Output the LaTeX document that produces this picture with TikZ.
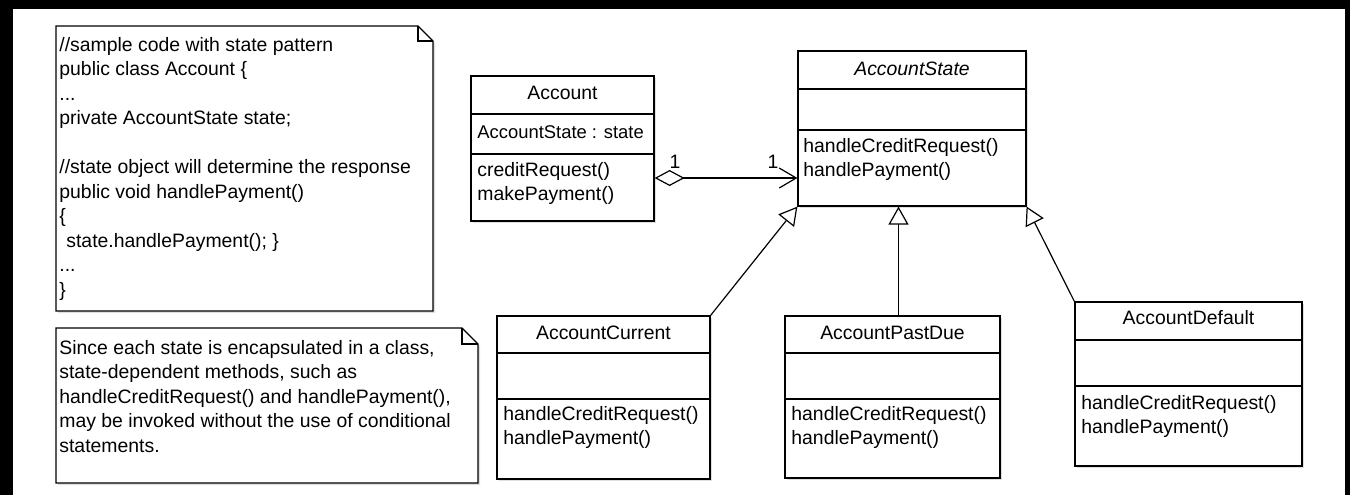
\documentclass[tikz,border=0pt]{standalone}
\usepackage{fontspec}
\setmainfont{Liberation Sans}
\usetikzlibrary{arrows.meta,fit,shadows}

\begin{document}
\begin{tikzpicture}[x=0.5pt,y=-0.5pt,
  every node/.style={font=\fontsize{9.7pt}{11.5pt}\selectfont, inner sep=0pt},
  line/.style={line width=0.6pt, draw=black},
  box/.style={line, fill=white, inner sep=0pt,
    drop shadow={shadow xshift=1pt, shadow yshift=-1pt, fill=black!25, opacity=.5}},
  txt/.style={anchor=base west, text=black},
  ttl/.style={anchor=base, text=black},
  gen/.style={line, -{Triangle[open, length=9pt, width=10pt, fill=white]}},
  assoc/.style={line, {Diamond[open, length=15pt, width=8pt, fill=white]}-{Straight Barb[length=8.5pt, width=10pt]}},
]
\useasboundingbox (0,0) rectangle (1350,495);

% frame bars
\fill[black] (0,0) rectangle (1350,9);
\fill[black] (0,0) rectangle (13,495);
\fill[black] (1345,0) rectangle (1350,495);

% ---------- note: sample code ----------
\begin{scope}[shift={(2,2)}]
  \fill[black!13] (56,26) -- (418,26) -- (433,41) -- (433,311) -- (56,311) -- cycle;
\end{scope}
\filldraw[line, fill=white] (56,26) -- (418,26) -- (433,41) -- (433,311) -- (56,311) -- cycle;
\draw[line] (418,26) -- (418,41) -- (433,41);
\node[txt] (c1)  at (59,51)    {//sample code with state pattern};
\node[txt] (c2)  at (59,75.5)  {public class Account \{};
\node[txt] (c3)  at (59,100)   {...};
\node[txt] (c4)  at (59,124.5) {private AccountState state;};
\node[txt] (c6)  at (59,173.5) {//state object will determine the response};
\node[txt] (c7)  at (59,198)   {public void handlePayment()};
\node[txt] (c8)  at (59,222.5) {\{};
\node[txt] (c9)  at (66,247)   {state.handlePayment(); \}};
\node[txt] (c10) at (59,271.5) {...};
\node[txt] (c11) at (59,296)   {\}};

% ---------- note: explanation ----------
\begin{scope}[shift={(2,2)}]
  \fill[black!13] (56,328) -- (462,328) -- (478,344) -- (478,483) -- (56,483) -- cycle;
\end{scope}
\filldraw[line, fill=white] (56,328) -- (462,328) -- (478,344) -- (478,483) -- (56,483) -- cycle;
\draw[line] (462,328) -- (462,344) -- (478,344);
\node[txt] (e1) at (59,354)   {Since each state is encapsulated in a class,};
\node[txt] (e2) at (59,378.5) {state-dependent methods, such as};
\node[txt] (e3) at (59,403)   {handleCreditRequest() and handlePayment(),};
\node[txt] (e4) at (59,427.5) {may be invoked without the use of conditional};
\node[txt] (e5) at (59,452)   {statements.};

% ---------- classes ----------
\node[box, fit={(471,76) (654,221)}] (acc) {};
\draw[line] (acc.west |- 0,114) -- (acc.east |- 0,114);
\draw[line] (acc.west |- 0,154) -- (acc.east |- 0,154);
\node[ttl] (accN) at (acc.north |- 0,99) {Account};
\node[txt, font=\fontsize{9.2pt}{11.5pt}\selectfont] (accA) at (477,138) {AccountState : state};
\node[txt] (accM1) at (477,176) {creditRequest()};
\node[txt] (accM2) at (477,200.5) {makePayment()};

\node[box, fit={(798,51) (1026,206)}] (state) {};
\draw[line] (state.west |- 0,89) -- (state.east |- 0,89);
\draw[line] (state.west |- 0,130) -- (state.east |- 0,130);
\node[ttl] (stateN) at (state.north |- 0,75) {\itshape AccountState};
\node[txt] (stateM1) at (803,152) {handleCreditRequest()};
\node[txt] (stateM2) at (803,176.5) {handlePayment()};

\node[box, fit={(497,316) (710,479)}] (cur) {};
\draw[line] (cur.west |- 0,353) -- (cur.east |- 0,353);
\draw[line] (cur.west |- 0,399) -- (cur.east |- 0,399);
\node[ttl] (curN) at (cur.north |- 0,339) {AccountCurrent};
\node[txt] (curM1) at (503,420) {handleCreditRequest()};
\node[txt] (curM2) at (503,444.5) {handlePayment()};

\node[box, fit={(785,316) (1000,478)}] (pd) {};
\draw[line] (pd.west |- 0,353) -- (pd.east |- 0,353);
\draw[line] (pd.west |- 0,399) -- (pd.east |- 0,399);
\node[ttl] (pdN) at (pd.north |- 0,339) {AccountPastDue};
\node[txt] (pdM1) at (791,420) {handleCreditRequest()};
\node[txt] (pdM2) at (791,444.5) {handlePayment()};

\node[box, fit={(1075,302) (1302,466)}] (def) {};
\draw[line] (def.west |- 0,340) -- (def.east |- 0,340);
\draw[line] (def.west |- 0,386) -- (def.east |- 0,386);
\node[ttl] (defN) at (def.north |- 0,324) {AccountDefault};
\node[txt] (defM1) at (1081,409) {handleCreditRequest()};
\node[txt] (defM2) at (1081,433.5) {handlePayment()};

% ---------- relations ----------
\draw[assoc] (acc.east |- 0,178) -- (state.west |- 0,178);
\node[ttl] (mulA) at (675,168) {1};
\node[ttl] (mulB) at (773,168) {1};

\draw[gen] (cur.north east) -- (state.south west);
\draw[gen] ([xshift=3pt]pd.north) -- ([xshift=3pt]pd.north |- state.south);
\draw[gen] (def.north west) -- (state.south east);
\end{tikzpicture}
\end{document}
